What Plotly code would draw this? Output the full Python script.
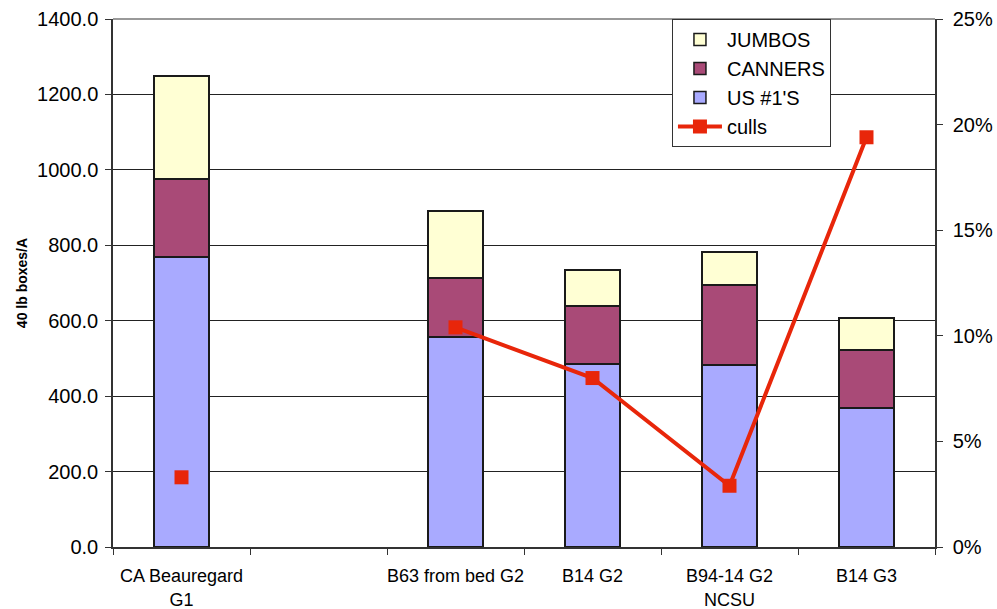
import plotly.graph_objects as go

# Sweet potato yield grades (40 lb boxes per acre) and cull percentage
categories = ["CA Beauregard<br>G1", "\u00a0", "B63 from bed G2", "B14 G2",
              "B94-14 G2<br>NCSU", "B14 G3"]
us_no1 = [769, None, 557, 485, 483, 369]
canners = [207, None, 156, 154, 212, 153]
jumbos = [273, None, 178, 95, 87, 85]
culls = [0.033, None, 0.104, 0.080, 0.029, 0.194]

left_ticks = [0, 200, 400, 600, 800, 1000, 1200, 1400]
right_ticks = [0, 0.05, 0.10, 0.15, 0.20, 0.25]

FONT = "Liberation Sans, Arial, sans-serif"
bar_line = dict(color="#1a1a1a", width=1.5)

fig = go.Figure()
fig.add_trace(go.Bar(x=categories, y=us_no1, name="US #1'S",
                     marker=dict(color="#A9AAFF", line=bar_line),
                     width=0.4, legendrank=3))
fig.add_trace(go.Bar(x=categories, y=canners, name="CANNERS",
                     marker=dict(color="#A94A77", line=bar_line),
                     width=0.4, legendrank=2))
fig.add_trace(go.Bar(x=categories, y=jumbos, name="JUMBOS",
                     marker=dict(color="#FFFFD4", line=bar_line),
                     width=0.4, legendrank=1))
fig.add_trace(go.Scatter(x=categories, y=culls, name="culls", yaxis="y2",
                         mode="lines+markers", connectgaps=False,
                         line=dict(color="#E8260A", width=4),
                         marker=dict(symbol="square", size=14, color="#E8260A"),
                         legendrank=4))

# top border line of the plot area (the 1400 gridline)
fig.add_shape(type="line", xref="paper", yref="paper", x0=0, x1=1, y0=1, y1=1,
              line=dict(color="#777", width=1.5), layer="below")

fig.update_layout(
    barmode="stack",
    width=997, height=609,
    margin=dict(l=113, r=62, t=19, b=62, autoexpand=False),
    paper_bgcolor="white", plot_bgcolor="white",
    font=dict(family=FONT, size=20, color="black"),
    showlegend=True,
    legend=dict(x=0.68, y=1.0, xanchor="left", yanchor="top",
                traceorder="normal",
                bgcolor="white", bordercolor="#333", borderwidth=1,
                font=dict(size=20), tracegroupgap=0, itemwidth=44),
    xaxis=dict(type="category", categoryorder="array", categoryarray=categories,
               tickson="boundaries", ticks="outside", ticklen=6, tickangle=0,
               tickcolor="#333", showline=True, linecolor="#333", linewidth=1.5,
               showgrid=False, tickfont=dict(size=18), fixedrange=True,
               ticklabelstandoff=12, automargin=False),
    yaxis=dict(range=[0, 1400], tickvals=left_ticks, tickformat=".1f",
               ticks="outside", ticklen=6, tickcolor="#333",
               showline=True, linecolor="#333", linewidth=1.5,
               showgrid=True, gridcolor="#222", gridwidth=1,
               zeroline=False, tickfont=dict(size=20), automargin=False,
               ticklabelstandoff=3,
               title=dict(text="<b>40 lb boxes/A</b>", font=dict(size=14),
                          standoff=6)),
    yaxis2=dict(range=[0, 0.25], tickvals=right_ticks, tickformat=".0%",
                overlaying="y", side="right", ticks="outside", ticklen=6,
                tickcolor="#333", showline=True, linecolor="#333",
                linewidth=1.5, showgrid=False, zeroline=False,
                tickfont=dict(size=20), automargin=False,
                ticklabelstandoff=6),
)

fig.write_html("out.html")
